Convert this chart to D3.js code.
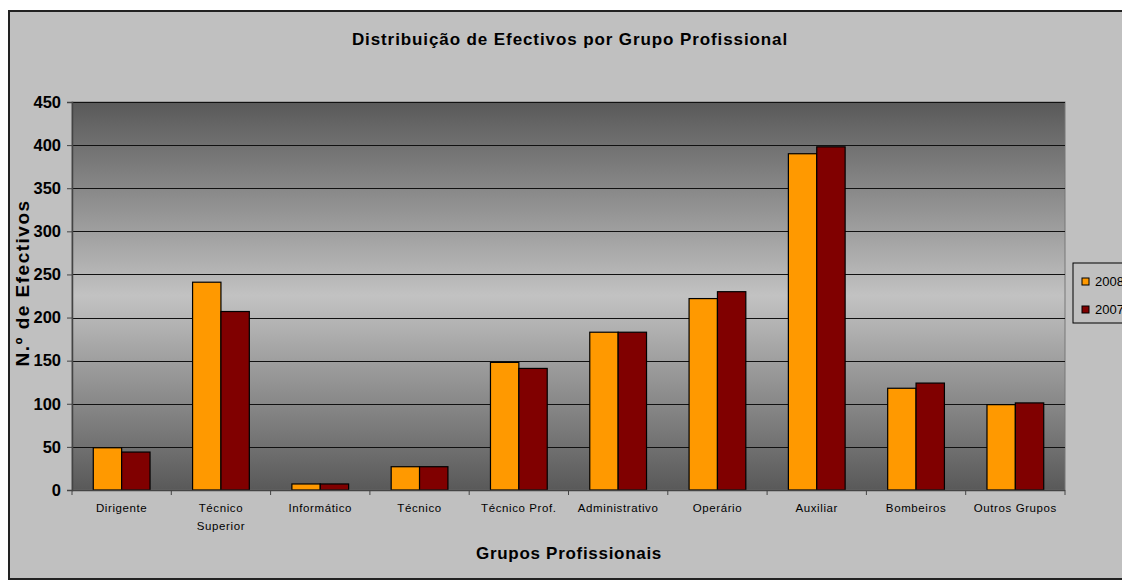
<!DOCTYPE html>
<html>
<head>
<meta charset="utf-8">
<script src="https://cdn.jsdelivr.net/npm/d3@7"></script>
<style>
  body { margin: 0; background: #fff; }
  text { font-family: "Liberation Sans", Arial, sans-serif; }
</style>
</head>
<body>
<svg id="chart" width="1122" height="581"></svg>
<script>
// data
var categories = ["Dirigente", "Técnico Superior", "Informático", "Técnico", "Técnico Prof.",
                  "Administrativo", "Operário", "Auxiliar", "Bombeiros", "Outros Grupos"];
var categoryLabels = [["Dirigente"], ["Técnico", "Superior"], ["Informático"], ["Técnico"], ["Técnico Prof."],
                      ["Administrativo"], ["Operário"], ["Auxiliar"], ["Bombeiros"], ["Outros Grupos"]];
var series = ["2008", "2007"];
var values2008 = [49, 241, 7, 27, 148, 183, 222, 390, 118, 99];
var values2007 = [44, 207, 7, 27, 141, 183, 230, 398, 124, 101];
var yTicks = [0, 50, 100, 150, 200, 250, 300, 350, 400, 450];
var colors = ["#ff9900", "#800000"];

var svg = d3.select("#chart");

// outer chart area
svg.append("rect")
    .attr("x", 9).attr("y", 11)
    .attr("width", 1140).attr("height", 568)
    .attr("fill", "#c0c0c0")
    .attr("stroke", "#222")
    .attr("stroke-width", 2);

var plotLeft = 72, plotRight = 1065, plotTop = 102, plotBottom = 490;

// x scales, Excel style gap width 150%
var x0 = d3.scaleBand()
    .domain(categories)
    .range([plotLeft, plotRight])
    .paddingInner(1.5 / 3.5)
    .paddingOuter(0.75 / 3.5);

var x1 = d3.scaleBand()
    .domain(series)
    .range([0, x0.bandwidth()]);

var y = d3.scaleLinear()
    .domain([0, 450])
    .range([plotBottom, plotTop]);

// plot area gradient: dark at top and bottom, light in the middle
var grad = svg.append("defs").append("linearGradient")
    .attr("id", "plotbg")
    .attr("x1", 0).attr("y1", 0).attr("x2", 0).attr("y2", 1);
grad.append("stop").attr("offset", "0%").attr("stop-color", "#595959");
grad.append("stop").attr("offset", "50%").attr("stop-color", "#c2c2c2");
grad.append("stop").attr("offset", "100%").attr("stop-color", "#595959");

svg.append("rect")
    .attr("x", plotLeft).attr("y", plotTop)
    .attr("width", plotRight - plotLeft).attr("height", plotBottom - plotTop)
    .attr("fill", "url(#plotbg)")
    .attr("stroke", "#777")
    .attr("stroke-width", 1);

// gridlines
svg.append("g")
    .selectAll("line")
    .data(yTicks.filter(function (d) { return d > 0; }))
    .enter()
    .append("line")
    .attr("x1", plotLeft).attr("x2", plotRight)
    .attr("y1", function (d) { return Math.round(y(d)) + 0.5; })
    .attr("y2", function (d) { return Math.round(y(d)) + 0.5; })
    .attr("stroke", "#111")
    .attr("stroke-width", 1);

// bars
var rows = categories.map(function (c, i) {
    return { cat: c, vals: [values2008[i], values2007[i]] };
});

var groups = svg.append("g")
    .selectAll("g")
    .data(rows)
    .enter()
    .append("g")
    .attr("transform", function (d) { return "translate(" + x0(d.cat) + ",0)"; });

groups.selectAll("rect")
    .data(function (d) {
        return series.map(function (s, j) { return { s: s, v: d.vals[j], j: j }; });
    })
    .enter()
    .append("rect")
    .attr("x", function (d) { return x1(d.s); })
    .attr("y", function (d) { return y(d.v); })
    .attr("width", x1.bandwidth())
    .attr("height", function (d) { return plotBottom - y(d.v); })
    .attr("fill", function (d) { return colors[d.j]; })
    .attr("stroke", "#000")
    .attr("stroke-width", 1.2);

// y axis
var yAxis = svg.append("g")
    .attr("transform", "translate(" + plotLeft + ",0)")
    .call(d3.axisLeft(y).tickValues(yTicks).tickSize(5).tickPadding(6));
yAxis.select(".domain").attr("stroke", "#444").attr("stroke-width", 1.5);
yAxis.selectAll(".tick line").attr("stroke", "#444");
yAxis.selectAll("text")
    .attr("font-size", 16.5)
    .attr("font-weight", "bold")
    .attr("fill", "#000")
    .attr("font-family", "Liberation Sans, Arial, sans-serif");

// x axis line and ticks at category boundaries
var xAxisG = svg.append("g");
xAxisG.append("line")
    .attr("x1", plotLeft).attr("x2", plotRight)
    .attr("y1", plotBottom + 0.5).attr("y2", plotBottom + 0.5)
    .attr("stroke", "#444").attr("stroke-width", 1.5);
xAxisG.selectAll(".xt")
    .data(d3.range(categories.length + 1))
    .enter()
    .append("line")
    .attr("class", "xt")
    .attr("x1", function (i) { return plotLeft + i * x0.step(); })
    .attr("x2", function (i) { return plotLeft + i * x0.step(); })
    .attr("y1", plotBottom).attr("y2", plotBottom + 5)
    .attr("stroke", "#444");

var labels = xAxisG.selectAll(".xl")
    .data(categories)
    .enter()
    .append("text")
    .attr("class", "xl")
    .attr("x", function (c) { return x0(c) + x0.bandwidth() / 2; })
    .attr("y", 512)
    .attr("text-anchor", "middle")
    .attr("font-size", 11.5)
    .attr("letter-spacing", 0.6)
    .attr("fill", "#000");
labels.selectAll("tspan")
    .data(function (c) { return categoryLabels[categories.indexOf(c)]; })
    .enter()
    .append("tspan")
    .attr("x", function () { return d3.select(this.parentNode).attr("x"); })
    .attr("dy", function (d, i) { return i === 0 ? 0 : 18; })
    .text(function (d) { return d; });

// titles
svg.append("text")
    .attr("x", 570).attr("y", 45)
    .attr("text-anchor", "middle")
    .attr("font-size", 17)
    .attr("letter-spacing", 0.9)
    .attr("font-weight", "bold")
    .text("Distribuição de Efectivos por Grupo Profissional");

svg.append("text")
    .attr("x", 569).attr("y", 559)
    .attr("text-anchor", "middle")
    .attr("font-size", 17)
    .attr("letter-spacing", 0.7)
    .attr("font-weight", "bold")
    .text("Grupos Profissionais");

svg.append("text")
    .attr("transform", "translate(29,283) rotate(-90)")
    .attr("text-anchor", "middle")
    .attr("font-size", 19)
    .attr("letter-spacing", 1.5)
    .attr("font-weight", "bold")
    .text("N.º de Efectivos");

// legend
var legend = svg.append("g").attr("transform", "translate(1073,263)");
legend.append("rect")
    .attr("x", 0).attr("y", 0)
    .attr("width", 80).attr("height", 60)
    .attr("fill", "#c0c0c0")
    .attr("stroke", "#000");
var li = legend.selectAll(".li")
    .data(series)
    .enter()
    .append("g")
    .attr("transform", function (d, i) { return "translate(9," + (15 + i * 28) + ")"; });
li.append("rect")
    .attr("width", 7).attr("height", 7)
    .attr("fill", function (d, i) { return colors[i]; })
    .attr("stroke", "#000");
li.append("text")
    .attr("x", 13).attr("y", 8)
    .attr("font-size", 13)
    .text(function (d) { return d; });
</script>
</body>
</html>
